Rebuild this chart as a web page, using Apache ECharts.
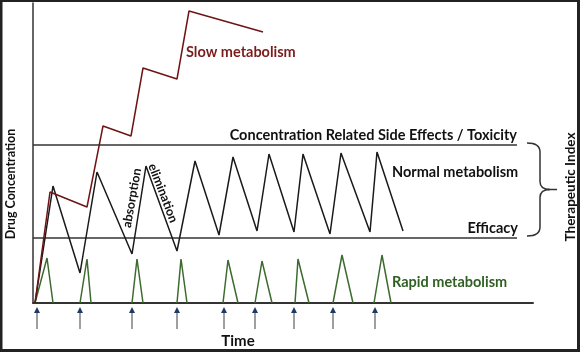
<!DOCTYPE html>
<html>
<head>
<meta charset="utf-8">
<script src="https://cdn.jsdelivr.net/npm/echarts@6/dist/echarts.min.js"></script>
<style>
html, body { margin: 0; padding: 0; background: #fff; }
#main { width: 580px; height: 352px; }
</style>
</head>
<body>
<div id="main"></div>
<script>
// time on x (0-500), drug concentration on y (0-300)
var slowData = [[2, 0], [17, 111], [54, 96], [70, 177], [98, 167], [110, 235], [144, 224], [156, 292], [230, 271]];
var normalData = [[2, 0], [20, 117], [47, 30], [64, 131], [99, 49], [113, 137], [144, 52], [162, 142], [186, 68],
    [200, 146], [224, 72], [236, 149], [261, 71], [270, 149], [297, 69], [308, 150], [337, 71], [344, 151], [370, 72]];
var rapidPeaks = [
    [[2, 0], [14, 45], [20, 0]],
    [[47, 0], [54, 44], [58, 0]],
    [[99, 0], [104, 44], [110, 0]],
    [[144, 0], [148, 44], [154, 0]],
    [[190, 0], [195, 43], [205, 0]],
    [[222, 0], [229, 42], [239, 0]],
    [[262, 0], [265, 44], [276, 0]],
    [[300, 0], [309, 48], [320, 0]],
    [[341, 0], [349, 48], [358, 0]]
];
var doseTimes = [4, 47, 99, 144, 191, 222, 261, 300, 342];
var toxicityLevel = [[0, 158], [484, 158]];
var efficacyLevel = [[0, 65], [484, 65]];

var myChart = echarts.init(document.getElementById('main'));

var font = 'Lato, "Noto Sans", sans-serif';

function label(text, x, y, opt) {
    opt = opt || {};
    return {
        type: 'text',
        x: x,
        y: y,
        rotation: (opt.rotate || 0) * Math.PI / 180,
        style: {
            text: text,
            fill: opt.color || '#111',
            font: 'bold ' + (opt.size || 14.5) + 'px ' + font,
            align: opt.align || 'left',
            verticalAlign: 'middle'
        },
        z: 10
    };
}

var series = [];

// 治疗窗 上下限
series.push({
    type: 'line', data: toxicityLevel, symbol: 'none', silent: true,
    lineStyle: { color: '#333', width: 1.5 }
});
series.push({
    type: 'line', data: efficacyLevel, symbol: 'none', silent: true,
    lineStyle: { color: '#333', width: 1.5 }
});

// rapid metabolism spikes
rapidPeaks.forEach(function (p) {
    series.push({
        type: 'line', data: p, symbol: 'none',
        lineStyle: { color: '#3d6b2f', width: 1.5 }
    });
});

series.push({
    type: 'line', data: normalData, symbol: 'none',
    lineStyle: { color: '#1a1a1a', width: 1.5 }
});
series.push({
    type: 'line', data: slowData, symbol: 'none',
    lineStyle: { color: '#6e1414', width: 1.5 }
});

// dose arrows
series.push({
    type: 'custom',
    clip: false,
    data: doseTimes.map(function (t) { return [t]; }),
    renderItem: function (params, api) {
        var t = api.value(0);
        var p0 = api.coord([t, -26]);
        var p1 = api.coord([t, -4]);
        return {
            type: 'group',
            children: [{
                type: 'line',
                shape: { x1: p0[0], y1: p0[1], x2: p1[0], y2: p1[1] + 4 },
                style: { stroke: '#7f7f7f', lineWidth: 1.5 }
            }, {
                type: 'polygon',
                shape: { points: [[p1[0], p1[1]], [p1[0] - 3, p1[1] + 6], [p1[0] + 3, p1[1] + 6]] },
                style: { fill: '#1f3864' }
            }]
        };
    }
});

// therapeutic index brace
series.push({
    type: 'custom',
    clip: false,
    data: [[494]],
    renderItem: function (params, api) {
        var x = api.value(0);
        var top = api.coord([x, toxicityLevel[0][1]]);
        var bot = api.coord([x, efficacyLevel[0][1]]);
        var x0 = top[0], y0 = top[1] - 2, y1 = bot[1] - 2;
        var xm = x0 + 13, ym = (y0 + y1) / 2;
        var d = 'M' + x0 + ',' + y0 + ' Q' + xm + ',' + y0 + ' ' + xm + ',' + (y0 + 9) +
            ' L' + xm + ',' + (ym - 8) + ' Q' + xm + ',' + ym + ' ' + (xm + 10) + ',' + ym +
            ' Q' + xm + ',' + ym + ' ' + xm + ',' + (ym + 8) +
            ' L' + xm + ',' + (y1 - 9) + ' Q' + xm + ',' + y1 + ' ' + x0 + ',' + y1;
        return {
            type: 'group',
            children: [{
                type: 'path',
                shape: { pathData: d },
                style: { stroke: '#333', lineWidth: 1.5, fill: null }
            }, {
                type: 'line',
                shape: { x1: xm + 8, y1: ym, x2: xm + 17, y2: ym },
                style: { stroke: '#333', lineWidth: 1.5 }
            }]
        };
    }
});

var option = {
    animation: false,
    backgroundColor: '#fff',
    grid: { left: 33, right: 47, top: 3, bottom: 49 },
    xAxis: {
        type: 'value', min: 0, max: 500,
        axisLine: { show: true, onZero: false, lineStyle: { color: '#333', width: 2 } },
        axisTick: { show: false },
        axisLabel: { show: false },
        splitLine: { show: false }
    },
    yAxis: {
        type: 'value', min: 0, max: 300,
        axisLine: { show: true, onZero: false, lineStyle: { color: '#333', width: 1.5 } },
        axisTick: { show: false },
        axisLabel: { show: false },
        splitLine: { show: false }
    },
    series: series,
    graphic: [
        {
            type: 'rect',
            shape: { x: 1, y: 0.5, width: 577.5, height: 350 },
            style: { stroke: '#222', lineWidth: 3, fill: null },
            z: 20
        },
        label('Slow metabolism', 186, 52, { color: '#7b1c1c' }),
        label('Concentration Related Side Effects / Toxicity', 517, 135, { align: 'right' }),
        label('Normal metabolism', 392, 172),
        label('Efficacy', 518, 228, { align: 'right' }),
        label('Rapid metabolism', 392, 282, { color: '#2f5f22' }),
        label('absorption', 132, 198, { align: 'center', rotate: 80, size: 12.5 }),
        label('elimination', 163, 193, { align: 'center', rotate: -69, size: 12.5 }),
        label('Therapeutic Index', 571, 187, { align: 'center', rotate: 90, size: 13.5 }),
        label('Drug Concentration', 11, 184, { align: 'center', rotate: 90, size: 12.5 }),
        label('Time', 238, 341, { align: 'center', size: 15 })
    ]
};

myChart.setOption(option, true);
</script>
</body>
</html>
